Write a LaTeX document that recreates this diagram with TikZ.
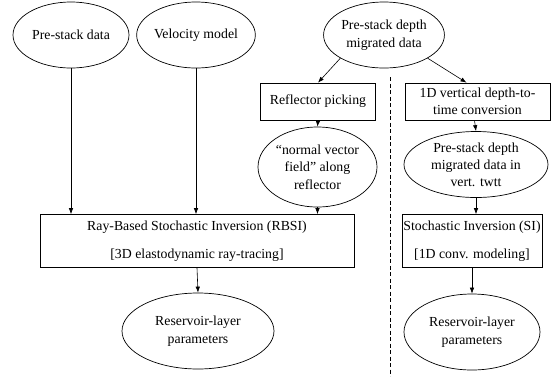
\documentclass[tikz,border=0pt]{standalone}
\usepackage{fontspec}
\setmainfont{Liberation Serif}
\usetikzlibrary{shapes.geometric,arrows.meta}
\begin{document}
\begin{tikzpicture}[x=1pt,y=-1pt,
  every node/.style={font=\fontsize{13.8}{17.5}\selectfont, align=center, inner sep=0pt},
  oval/.style={draw, ellipse, line width=0.7pt},
  procbox/.style={draw, rectangle, line width=0.7pt},
  flow/.style={-{Latex[length=6pt,width=4.5pt]}, line width=0.6pt},
  divider/.style={line width=0.6pt, dash pattern=on 4pt off 2.5pt}]
\useasboundingbox (0,0) rectangle (555,376);

% left branch: ray-based inversion
\node[oval, minimum width=116, minimum height=66] (psd) at (71,35) {Pre-stack data};
\node[oval, minimum width=116, minimum height=66] (vel) at (196,35) {Velocity model};
\node[oval, minimum width=106, minimum height=66] (pdm) at (384,35) {Pre-stack depth\\migrated data};
\node[procbox, minimum width=115, minimum height=37] (refl) at (318,101.5) {Reflector picking};
\node[oval, minimum width=119, minimum height=80] (nvf) at (317.5,167) {“normal vector\\field” along\\reflector};
\node[procbox, minimum width=314, minimum height=53] (rbsi) at (197,241)
  {Ray-Based Stochastic Inversion (RBSI)\\[10.5pt][3D elastodynamic ray-tracing]};
\node[oval, minimum width=152, minimum height=76] (res1) at (198,331) {Reservoir-layer\\parameters};

% right branch: 1D inversion in vertical time
\node[procbox, minimum width=145, minimum height=37, font=\fontsize{13.8}{16.5}\selectfont] (conv) at (477.5,101.5)
  {1D vertical depth-to-\\time conversion};
\node[oval, minimum width=144, minimum height=66, font=\fontsize{13.8}{17}\selectfont] (twtt) at (476,164.5)
  {Pre-stack depth\\migrated data in\\vert. twtt};
\node[procbox, minimum width=140, minimum height=53] (si) at (472,241)
  {Stochastic Inversion (SI)\\[10.5pt][1D conv. modeling]};
\node[oval, minimum width=136, minimum height=76] (res2) at (472,332) {Reservoir-layer\\parameters};

% separator between the two workflows
\coordinate (dtop) at (390,77);
\coordinate (dbot) at (390,376);
\draw[divider] (dtop) -- (dbot);

% connectors
\draw[flow] (psd.south) -- (psd.south |- rbsi.north);
\draw[flow] (vel.south) -- (vel.south |- rbsi.north);
\draw[flow] (pdm.208) -- (refl.north);
\draw[flow] (pdm.332) -- ([xshift=-11pt]conv.north);
\draw[flow] (refl.south) -- (nvf.north);
\draw[flow] (nvf.south) -- (nvf.south |- rbsi.north);
\draw[flow] (rbsi.south) -- (res1.north);
\draw[flow] ([xshift=-3pt]conv.south) -- (twtt.north);
\draw[flow] (twtt.south) -- (twtt.south |- si.north);
\draw[flow] (si.south) -- (res2.north);
\end{tikzpicture}
\end{document}
